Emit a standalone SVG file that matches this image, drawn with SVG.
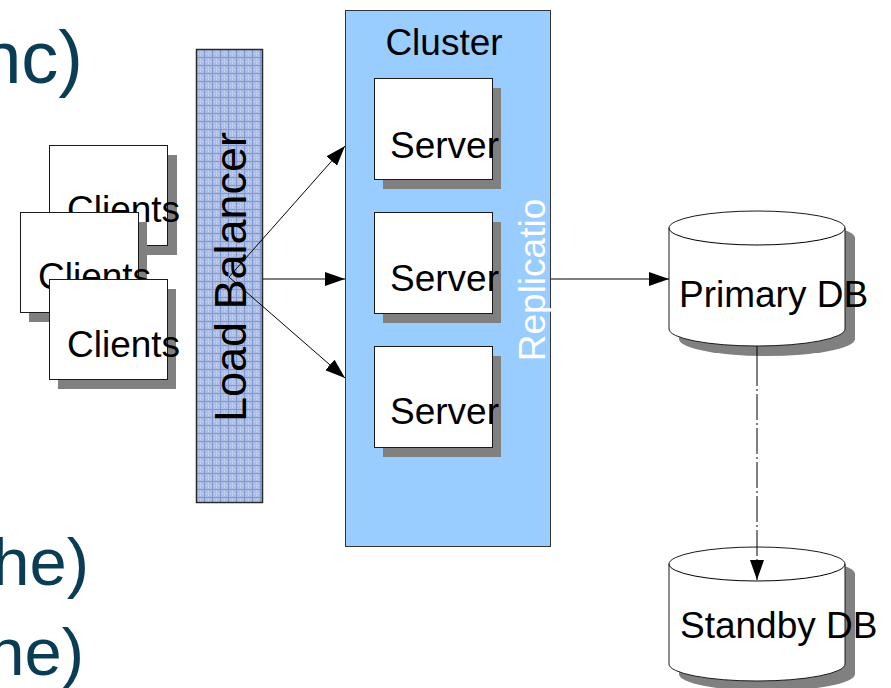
<svg xmlns="http://www.w3.org/2000/svg" width="891" height="688" viewBox="0 0 891 688">
  <style>
    .lbl { font-family: "Liberation Sans", Arial, sans-serif; font-size: 37px; fill: #000; }
    .lb-lbl { font-family: "Liberation Sans", Arial, sans-serif; font-size: 45px; fill: #000; }
    .side { font-family: "Liberation Sans", Arial, sans-serif; fill: #0a3d55; text-anchor: end; }
    .box { fill: #fff; stroke: #1a1a1a; stroke-width: 1; }
    .shadow { fill: #808080; }
    .conn { stroke: #000; stroke-width: 1; fill: none; }
  </style>
  <defs>
    <pattern id="lbGrid" width="8" height="8" patternUnits="userSpaceOnUse" x="196" y="49">
      <rect width="8" height="8" fill="#aebee3"/>
      <path d="M0,4.5H8M4.5,0V8" stroke="#cfd9ef" stroke-width="1" stroke-dasharray="1 1"/>
      <path d="M0,0.5H8M0.5,0V8" stroke="#7f98d1" stroke-width="1"/>
    </pattern>
    <marker id="arrow" viewBox="0 0 20 14" refX="20" refY="7" markerWidth="20" markerHeight="14" markerUnits="userSpaceOnUse" orient="auto">
      <path d="M0,0 L20,7 L0,14 Z" fill="#000"/>
    </marker>
  </defs>

  <rect width="891" height="688" fill="#fff"/>

  <!-- bullet text fragments on the left -->
  <g id="side-text">
    <text class="side" x="83" y="83" font-size="74">nc)</text>
    <text class="side" x="89" y="585" font-size="67">he)</text>
    <text class="side" x="84" y="675" font-size="67">ne)</text>
  </g>

  <!-- client stack -->
  <g id="clients-1">
    <rect class="shadow" x="59" y="155" width="118" height="100"/>
    <rect class="box" x="49.5" y="145.5" width="118" height="100"/>
    <text class="lbl" x="67" y="222">Clients</text>
  </g>
  <g id="clients-2">
    <rect class="shadow" x="29" y="222" width="118" height="100"/>
    <rect class="box" x="20.5" y="212.5" width="118" height="100"/>
    <text class="lbl" x="38" y="289">Clients</text>
  </g>
  <g id="clients-3">
    <rect class="shadow" x="58" y="289" width="118" height="100"/>
    <rect class="box" x="49.5" y="279.5" width="118" height="100"/>
    <text class="lbl" x="67" y="357">Clients</text>
  </g>

  <!-- load balancer -->
  <g id="load-balancer">
    <rect x="196.5" y="49.5" width="66" height="453" fill="url(#lbGrid)" stroke="#2a2a2a" stroke-width="1.5"/>
    <text class="lb-lbl" x="246" y="277" text-anchor="middle" transform="rotate(-90 246 277)">Load Balancer</text>
  </g>

  <!-- cluster with servers -->
  <g id="cluster">
    <rect x="345.5" y="10.5" width="205" height="536" fill="#99ccff" stroke="#333" stroke-width="1"/>
    <text class="lbl" x="444" y="55" text-anchor="middle">Cluster</text>
    <text x="545" y="280" font-family="Liberation Sans, Arial, sans-serif" font-size="37" fill="#fff" text-anchor="middle" transform="rotate(-90 545 280)">Replicatio</text>
  </g>
  <g id="server-1">
    <rect class="shadow" x="383" y="88" width="118" height="101"/>
    <rect class="box" x="374.5" y="78.5" width="118" height="101"/>
    <text class="lbl" x="390" y="158">Server</text>
  </g>
  <g id="server-2">
    <rect class="shadow" x="383" y="222" width="118" height="101"/>
    <rect class="box" x="374.5" y="212.5" width="118" height="101"/>
    <text class="lbl" x="390" y="291">Server</text>
  </g>
  <g id="server-3">
    <rect class="shadow" x="383" y="356" width="118" height="101"/>
    <rect class="box" x="374.5" y="346.5" width="118" height="101"/>
    <text class="lbl" x="390" y="424">Server</text>
  </g>

  <!-- databases -->
  <g id="primary-db">
    <path class="shadow" d="M679,238 A88,17 0 0,1 855,238 L855,339 A88,17 0 0,1 679,339 Z"/>
    <path class="box" d="M669,228 A88,17 0 0,1 845,228 L845,329 A88,17 0 0,1 669,329 Z"/>
    <path class="conn" d="M669,228 A88,17 0 0,0 845,228"/>
    <text class="lbl" x="679" y="307">Primary DB</text>
  </g>
  <g id="standby-db">
    <path class="shadow" d="M679,574 A88,17 0 0,1 855,574 L855,674 A88,17 0 0,1 679,674 Z"/>
    <path class="box" d="M669,564 A88,17 0 0,1 845,564 L845,664 A88,17 0 0,1 669,664 Z"/>
    <path class="conn" d="M669,564 A88,17 0 0,0 845,564"/>
    <text class="lbl" x="680" y="638">Standby DB</text>
  </g>

  <!-- connectors -->
  <g id="connectors">
    <line class="conn" x1="229" y1="277" x2="345" y2="146" marker-end="url(#arrow)"/>
    <line class="conn" x1="263" y1="279" x2="345" y2="279" marker-end="url(#arrow)"/>
    <line class="conn" x1="229" y1="277" x2="345" y2="378" marker-end="url(#arrow)"/>
    <line class="conn" x1="551" y1="279" x2="669" y2="279" marker-end="url(#arrow)"/>
    <line class="conn" x1="757" y1="346" x2="757" y2="580" stroke-dasharray="40 3 2 3 26 3 2 3 26 3 2 3 26 3 2 3 26 3 2 3 26 3 2 3 26 3 2 3 26 3" marker-end="url(#arrow)"/>
  </g>
</svg>
